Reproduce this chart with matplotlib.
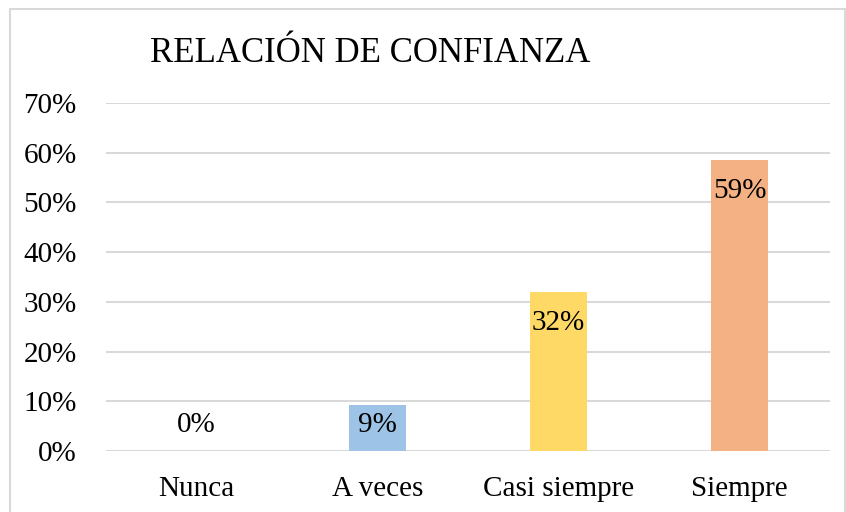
import matplotlib.pyplot as plt
from matplotlib.patches import Rectangle
from matplotlib.ticker import FuncFormatter

categorias = ['Nunca', 'A veces', 'Casi siempre', 'Siempre']
valores = [0, 9.3, 32, 58.6]
etiquetas = ['0%', '9%', '32%', '59%']
colores = ['#9DC3E6', '#9DC3E6', '#FFD966', '#F4B183']

plt.rcParams['font.family'] = ['Liberation Serif', 'DejaVu Serif']

fig = plt.figure(figsize=(8.46, 5.12), dpi=100)
ax = fig.add_axes([106 / 846, 1 - 451 / 512, 724 / 846, 348 / 512])

x = range(len(categorias))
ax.bar(x, valores, width=0.315, color=colores, zorder=3)

for i, v in enumerate(valores):
    y = max(v - 6.3, 5.2)
    ax.text(i, y, etiquetas[i], ha='center', va='center', fontsize=21, zorder=4)

ax.set_xlim(-0.5, 3.5)
ax.set_ylim(0, 70)
ax.set_yticks(range(0, 71, 10))
ax.yaxis.set_major_formatter(FuncFormatter(lambda v, p: f'{int(v)}%'))
ax.set_xticks(list(x))
ax.set_xticklabels(categorias)
ax.tick_params(axis='both', length=0, labelsize=21)
ax.tick_params(axis='x', pad=18)
ax.tick_params(axis='y', pad=21)
ax.grid(axis='y', color='#D9D9D9', linewidth=1.5, zorder=0)
for s in ax.spines.values():
    s.set_visible(False)

fig.text(150 / 846, 1 - 53 / 512, 'RELACIÓN DE CONFIANZA', fontsize=25,
         ha='left', va='center')

fig.patches.append(Rectangle((10 / 846, -0.01), 835 / 846, 1 - 9 / 512 + 0.01,
                             transform=fig.transFigure, fill=False,
                             edgecolor='#D9D9D9', linewidth=1.5))

fig.savefig('out.png', dpi=100)
